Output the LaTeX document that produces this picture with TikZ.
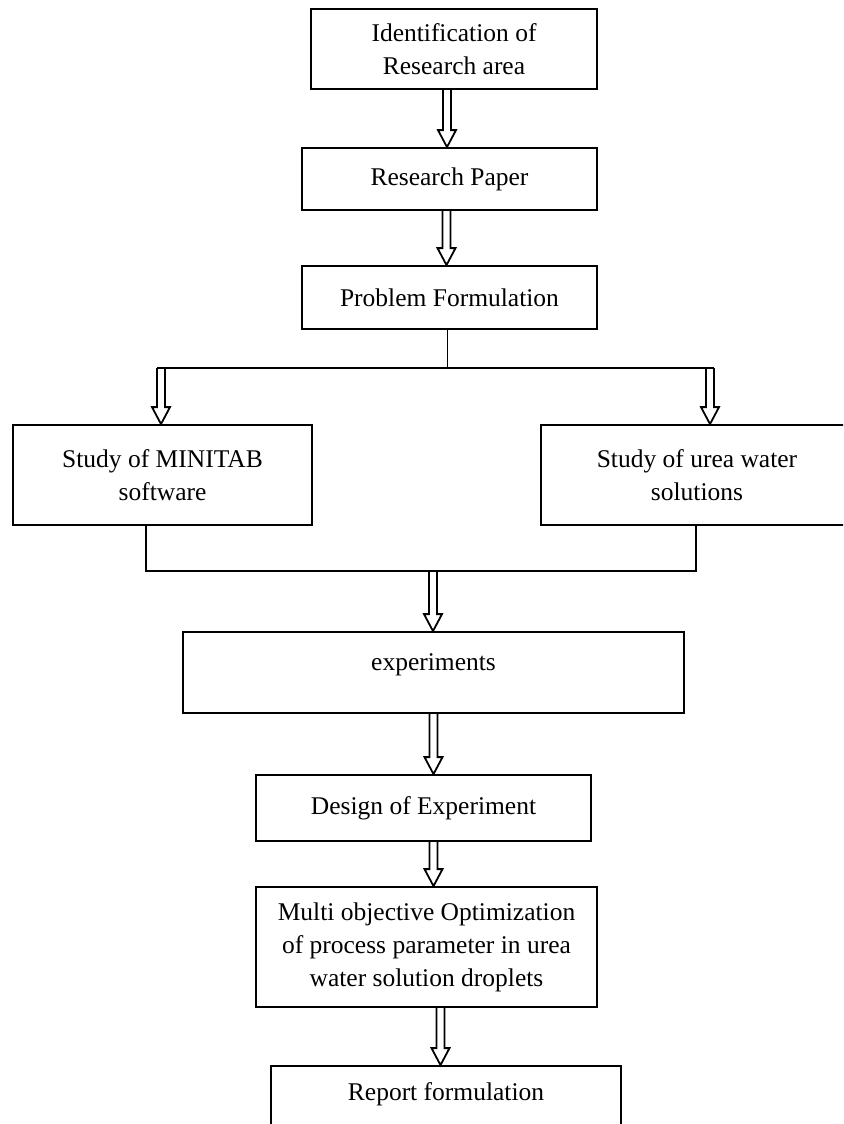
\documentclass[tikz,border=0pt]{standalone}
\usepackage{fontspec}
\setmainfont{Liberation Serif}
\usetikzlibrary{calc}
\begin{document}
\begin{tikzpicture}[x=0.5pt,y=-0.5pt,
  box/.style={draw,line width=0.9pt,align=center,inner sep=0pt,font=\fontsize{12.75pt}{16.5pt}\selectfont},
  link/.style={draw,line width=0.9pt},
  hollow/.style={link,line join=miter,to path={
    ($(\tikztostart)+(-4,0)$) -- ($(\tikztostart |- \tikztotarget)+(-4,-17)$)
    -- ($(\tikztostart |- \tikztotarget)+(-9,-17)$) -- (\tikztostart |- \tikztotarget)
    -- ($(\tikztostart |- \tikztotarget)+(9,-17)$) -- ($(\tikztostart |- \tikztotarget)+(4,-17)$)
    -- ($(\tikztostart)+(4,0)$)}}]
\useasboundingbox (0,0) rectangle (843,1124);
\clip (0,0) rectangle (843,1124);
\node[box,minimum width=143pt,minimum height=40pt] (ident) at (454,49) {Identification of\\Research area};
\node[box,minimum width=147.5pt,minimum height=31pt] (paper) at (449.5,179) {Research Paper};
\node[box,minimum width=147.5pt,minimum height=31.5pt] (problem) at (449.5,297.5) {Problem Formulation};
\node[box,minimum width=149.5pt,minimum height=50pt] (minitab) at (162.5,475) {Study of MINITAB\\software};
\node[box,minimum width=156pt,minimum height=50pt] (urea) at (697,475) {Study of urea water\\solutions};
\node[box,minimum width=250.5pt,minimum height=40.5pt,text depth=10.8pt] (expt) at (433.5,672.5) {experiments};
\node[box,minimum width=167.5pt,minimum height=33pt] (design) at (423.5,808) {Design of Experiment};
\node[box,minimum width=170.5pt,minimum height=60pt] (multi) at (426.5,947) {Multi objective Optimization\\of process parameter in urea\\water solution droplets};
\node[box,minimum width=175pt,minimum height=42pt,text depth=16.8pt] (report) at (446,1108) {Report formulation};
\coordinate (brL) at (161,368);
\coordinate (brR) at (710,368);
\coordinate (jnL) at (146,571);
\coordinate (jnR) at (696,571);
\coordinate (jnC) at (433,571);
\draw[hollow] ([xshift=-3.5pt]ident.south) to (paper.north);
\draw[hollow] ([xshift=-1.5pt]paper.south) to (problem.north);
\draw[link] ([xshift=-1pt]problem.south) -- ([xshift=-1pt]problem.south |- brR);
\draw[link] ([xshift=-2pt]brL) -- ([xshift=2pt]brR);
\draw[hollow] (brL) to (minitab.north);
\draw[hollow] (brR) to (urea.north);
\draw[link] (jnL |- minitab.south) -- (jnL) -- (jnR) -- (jnR |- urea.south);
\draw[hollow] (jnC) to (expt.north);
\draw[hollow] (expt.south) to (design.north);
\draw[hollow] ([xshift=5pt]design.south) to (multi.north);
\draw[hollow] ([xshift=7pt]multi.south) to (report.north);
\end{tikzpicture}
\end{document}
